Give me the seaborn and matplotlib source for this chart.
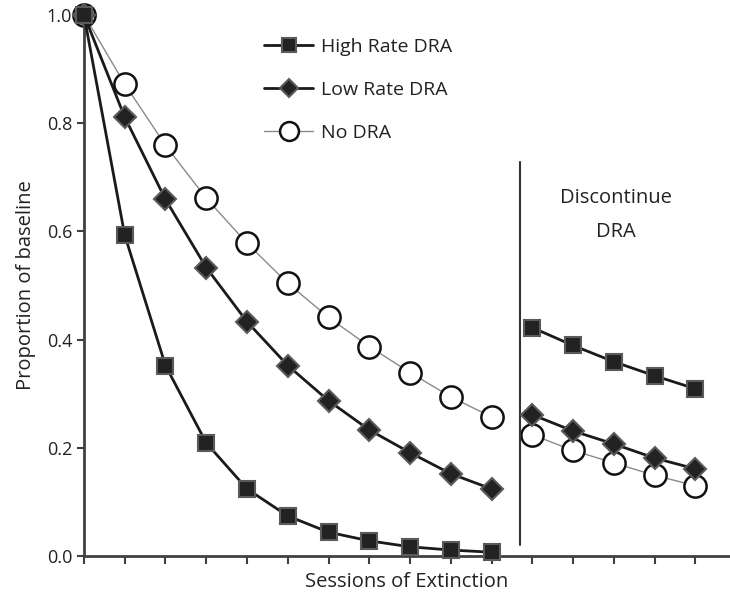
import numpy as np
import pandas as pd
import seaborn as sns
import matplotlib.pyplot as plt

# sessions of extinction, before and after DRA is discontinued
sessions_a = [0, 1, 2, 3, 4, 5, 6, 7, 8, 9, 10]
sessions_b = [11, 12, 13, 14, 15]

high_a = [1.0, 0.593, 0.352, 0.209, 0.124, 0.074, 0.044, 0.028, 0.017, 0.011, 0.007]
low_a = [1.0, 0.811, 0.659, 0.533, 0.433, 0.352, 0.287, 0.233, 0.191, 0.152, 0.124]
none_a = [1.0, 0.872, 0.759, 0.661, 0.578, 0.504, 0.441, 0.387, 0.339, 0.294, 0.257]

high_b = [0.422, 0.389, 0.359, 0.333, 0.309]
low_b = [0.261, 0.231, 0.207, 0.181, 0.161]
none_b = [0.224, 0.195, 0.172, 0.149, 0.130]

labels = ['High Rate DRA', 'Low Rate DRA', 'No DRA']
y_ticks = [0.0, 0.2, 0.4, 0.6, 0.8, 1.0]

sns.set_style('white')
plt.rcParams['font.family'] = ['Open Sans', 'DejaVu Sans']

styles = {
    'High Rate DRA': dict(color='#1a1a1a', lw=2.0, marker='s', markersize=12,
                          markerfacecolor='#222222', markeredgecolor='#5a5a5a', markeredgewidth=1.5),
    'Low Rate DRA': dict(color='#1a1a1a', lw=2.0, marker='D', markersize=11,
                         markerfacecolor='#222222', markeredgecolor='#5a5a5a', markeredgewidth=1.5),
    'No DRA': dict(color='#8a8a8a', lw=1.0, marker='o', markersize=16,
                   markerfacecolor='white', markeredgecolor='#111111', markeredgewidth=1.8),
}

fig = plt.figure(figsize=(7.3, 5.93), dpi=100)
ax = fig.add_axes([0.115, 0.0624, 0.885, 0.9126])

series = [
    ('High Rate DRA', high_a, high_b),
    ('Low Rate DRA', low_a, low_b),
    ('No DRA', none_a, none_b),
]
zorders = {'High Rate DRA': 4, 'Low Rate DRA': 3, 'No DRA': 2}
handles = {}
for name, ya, yb in reversed(series):
    st = styles[name]
    for xs, ys in [(sessions_a, ya), (sessions_b, yb)]:
        df = pd.DataFrame({'session': xs, 'value': ys})
        sns.lineplot(data=df, x='session', y='value', ax=ax, clip_on=False,
                     zorder=zorders[name], **st)
    handles[name] = ax.lines[-1]

leg = ax.legend([handles[n] for n in labels], labels, loc='upper left',
                bbox_to_anchor=(0.252, 0.99), frameon=False, fontsize=14,
                handlelength=2.5, labelspacing=1.3, handletextpad=0.4,
                markerscale=0.85)
for t in leg.get_texts():
    t.set_color('#222222')

# discontinue DRA divider
ax.plot([10.7, 10.7], [0.02, 0.728], color='#333333', lw=1.5)
ax.text(13.06, 0.63, 'Discontinue\nDRA', ha='center', va='center',
        fontsize=14.5, color='#222222', linespacing=1.9)

ax.set_xlim(0, 15.85)
ax.set_ylim(0, 1.0)
ax.set_xticks(range(0, 16))
ax.set_xticklabels([])
ax.set_yticks(y_ticks)
ax.set_yticklabels([f'{v:.1f}' for v in y_ticks])
ax.tick_params(axis='both', direction='out', length=5, width=1.5, bottom=True, left=True,
               color='#404040', labelsize=13, labelcolor='#222222')
ax.tick_params(axis='x', length=6)

sns.despine(ax=ax)
for sp in ['left', 'bottom']:
    ax.spines[sp].set_color('#404040')
    ax.spines[sp].set_linewidth(2.0)

ax.set_xlabel('Sessions of Extinction', fontsize=14.5, color='#222222', labelpad=2)
ax.set_ylabel('Proportion of baseline', fontsize=14.5, color='#222222', labelpad=8)

fig.savefig('out.png', dpi=100)
